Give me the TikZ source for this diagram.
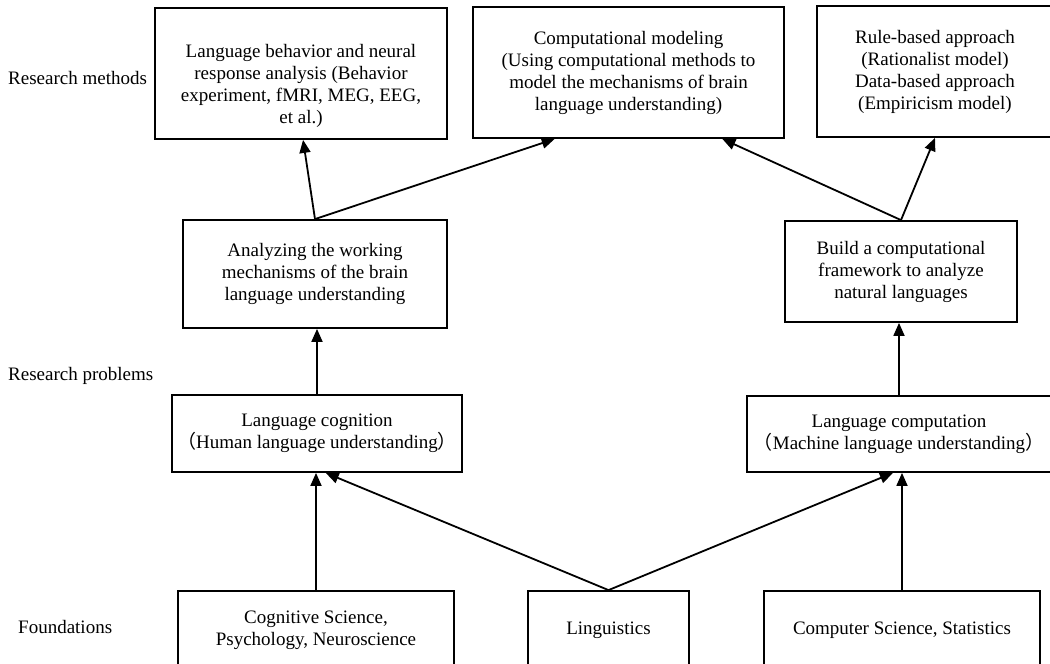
\documentclass[tikz,border=0pt]{standalone}
\usepackage{fontspec}
\setmainfont{Liberation Serif}
\newfontfamily\cjk{Noto Sans CJK SC}
\usetikzlibrary{arrows.meta,calc}
\begin{document}
\begin{tikzpicture}[x=1pt,y=-1pt,
  every node/.style={font=\fontsize{19}{22}\selectfont, inner sep=0pt},
  box/.style={draw, line width=1.8pt, align=center},
  lab/.style={anchor=west},
  arr/.style={line width=1.8pt, -{Triangle[length=13pt,width=11pt]}}]
\useasboundingbox (0,0) rectangle (1050,664);
\clip (0,0) rectangle (1050,664);
% labels
\node[lab] (l1) at (8,78) {Research methods};
\node[lab] (l2) at (8,376) {Research problems};
\node[lab] (l3) at (18,627) {Foundations};
% top row
\node[box, minimum width=292, minimum height=131] (tl) at (301,73.5) {};
\node (tlt) at (301,86) [align=center] {Language behavior and neural\\response analysis (Behavior\\experiment, fMRI, MEG, EEG,\\et al.)};
\node[box, minimum width=311, minimum height=131] (tm) at (628.5,72.5) {Computational modeling\\(Using computational methods to\\model the mechanisms of brain\\language understanding)};
\node[box, minimum width=236, minimum height=131] (tr) at (935,71.5) {Rule-based approach\\(Rationalist model)\\Data-based approach\\(Empiricism model)};
% middle row
\node[box, minimum width=264, minimum height=108] (ml) at (315,274) {Analyzing the working\\mechanisms of the brain\\language understanding};
\node[box, minimum width=232, minimum height=101] (mr) at (901,271.5) {Build a computational\\framework to analyze\\natural languages};
% problems row
\node[box, minimum width=290, minimum height=77] (ll) at (317,433.5) {Language cognition\\{\cjk （}Human language understanding{\cjk ）}};
\node[box, minimum width=304, minimum height=76] (lr) at (899,434) {Language computation\\{\cjk （}Machine language understanding{\cjk ）}};
% foundations
\node[box, minimum width=276, minimum height=78] (b1) at (316,630) {Cognitive Science,\\Psychology, Neuroscience};
\node[box, minimum width=161, minimum height=78] (b2) at (608.5,630) {Linguistics};
\node[box, minimum width=276, minimum height=78] (b3) at (902,630) {Computer Science, Statistics};
% connectors
\draw[arr] (b1.north) -- (b1.north |- ll.south);
\draw[arr] (b2.north) -- ($(ll.south west)!0.53!(ll.south east)$);
\draw[arr] (b2.north) -- ($(lr.south west)!0.48!(lr.south east)$);
\draw[arr] (b3.north) -- (b3.north |- lr.south);
\draw[arr] (ll.north) -- (ll.north |- ml.south);
\draw[arr] (lr.north) -- (lr.north |- mr.south);
\draw[arr] (ml.north) -- ($(tl.south west)!0.507!(tl.south east)$);
\draw[arr] (ml.north) -- ($(tm.south west)!0.264!(tm.south east)$);
\draw[arr] (mr.north) -- ($(tm.south west)!0.80!(tm.south east)$);
\draw[arr] (mr.north) -- (tr.south);
\end{tikzpicture}
\end{document}
